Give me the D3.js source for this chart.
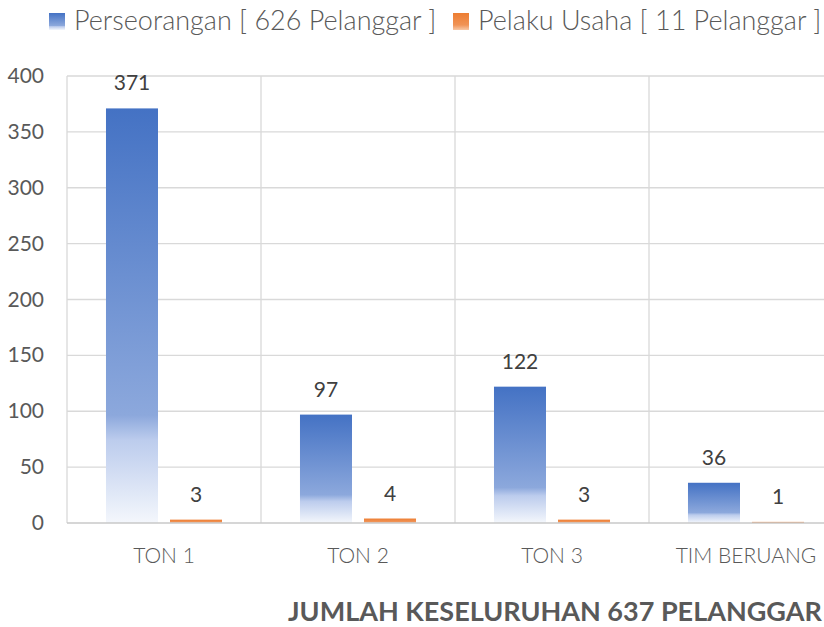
<!DOCTYPE html>
<html>
<head>
<meta charset="utf-8">
<script src="https://cdn.jsdelivr.net/npm/d3@7"></script>
<style>
  html, body { margin: 0; padding: 0; background: #fff; overflow: hidden; }
  text { font-family: Lato, "Open Sans", sans-serif; }
</style>
</head>
<body>
<div id="chart"></div>
<script>
var categories = ["TON 1", "TON 2", "TON 3", "TIM BERUANG"];
var seriesNames = ["Perseorangan [ 626 Pelanggar ]", "Pelaku Usaha [ 11 Pelanggar ]"];
var perseorangan = [371, 97, 122, 36];
var pelakuUsaha = [3, 4, 3, 1];
var yTicks = [0, 50, 100, 150, 200, 250, 300, 350, 400];
var chartTitle = "JUMLAH KESELURUHAN 637 PELANGGAR";

var W = 824, H = 627;

var svg = d3.select("#chart").append("svg")
  .attr("width", W).attr("height", H);

var defs = svg.append("defs");
function grad(id, stops) {
  var g = defs.append("linearGradient").attr("id", id)
    .attr("x1", 0).attr("y1", 0).attr("x2", 0).attr("y2", 1);
  stops.forEach(function(s) {
    g.append("stop").attr("offset", s[0]).attr("stop-color", s[1]);
  });
}
grad("gBlue", [[0, "#4472C4"], [0.74, "#8ca8dc"], [0.8, "#bccced"], [1, "#f4f7fc"]]);
grad("gOrange", [[0, "#ED7D31"], [0.7, "#f09356"], [1, "#f8c8a6"]]);

var x = d3.scaleBand().domain(categories).range([67, 843]).paddingInner(0).paddingOuter(0);
var xs = d3.scaleBand().domain([0, 1]).range([0, x.bandwidth()])
  .paddingInner(0.1875).paddingOuter(0.609);
var y = d3.scaleLinear().domain([0, 400]).range([523, 76]);

// gridlines
svg.append("g").selectAll("line.h").data(yTicks.slice(1)).enter().append("line")
  .attr("x1", 67).attr("x2", 843)
  .attr("y1", function(d) { return y(d); }).attr("y2", function(d) { return y(d); })
  .attr("stroke", "#d9d9d9").attr("stroke-width", 1.3);
svg.append("g").selectAll("line.v").data(categories.concat(["end"])).enter().append("line")
  .attr("x1", function(d, i) { return 67 + i * x.step(); })
  .attr("x2", function(d, i) { return 67 + i * x.step(); })
  .attr("y1", y(400)).attr("y2", y(0))
  .attr("stroke", "#d9d9d9").attr("stroke-width", 1.3);

// y tick labels
svg.append("g").selectAll("text").data(yTicks).enter().append("text")
  .attr("x", 44).attr("y", function(d) { return y(d) + 7; })
  .attr("text-anchor", "end").attr("font-size", 21).attr("fill", "#595959")
  .text(function(d) { return d; });

var series = [perseorangan, pelakuUsaha];
var fills = ["url(#gBlue)", "url(#gOrange)"];

series.forEach(function(vals, si) {
  var g = svg.append("g");
  g.selectAll("rect").data(vals).enter().append("rect")
    .attr("x", function(d, i) { return x(categories[i]) + xs(si); })
    .attr("y", function(d) { return y(d); })
    .attr("width", xs.bandwidth())
    .attr("height", function(d) { return y(0) - y(d); })
    .attr("fill", fills[si]);
  g.selectAll("text").data(vals).enter().append("text")
    .attr("x", function(d, i) { return x(categories[i]) + xs(si) + xs.bandwidth() / 2; })
    .attr("y", function(d) { return y(d) - 18; })
    .attr("text-anchor", "middle").attr("font-size", 21).attr("fill", "#404040")
    .text(function(d) { return d; });
});

// zero line
svg.append("line").attr("x1", 67).attr("x2", 843).attr("y1", y(0)).attr("y2", y(0))
  .attr("stroke", "#c9c9c9").attr("stroke-width", 1.6);

// category labels
svg.append("g").selectAll("text").data(categories).enter().append("text")
  .attr("x", function(d) { return x(d) + x.bandwidth() / 2; })
  .attr("y", 563)
  .attr("text-anchor", "middle").attr("font-size", 21).attr("font-weight", 300).attr("fill", "#595959")
  .text(function(d) { return d; });

// legend
var legendX = [49, 453];
seriesNames.forEach(function(name, i) {
  svg.append("rect").attr("x", legendX[i]).attr("y", 13).attr("width", 16).attr("height", 17)
    .attr("fill", fills[i]);
  svg.append("text").attr("x", legendX[i] + 25).attr("y", 30)
    .attr("font-size", 27).attr("font-weight", 300).attr("fill", "#595959")
    .text(name);
});

// title
svg.append("text").attr("x", 288).attr("y", 621)
  .attr("font-size", 27).attr("font-weight", "bold").attr("fill", "#595959")
  .text(chartTitle);
</script>
</body>
</html>
